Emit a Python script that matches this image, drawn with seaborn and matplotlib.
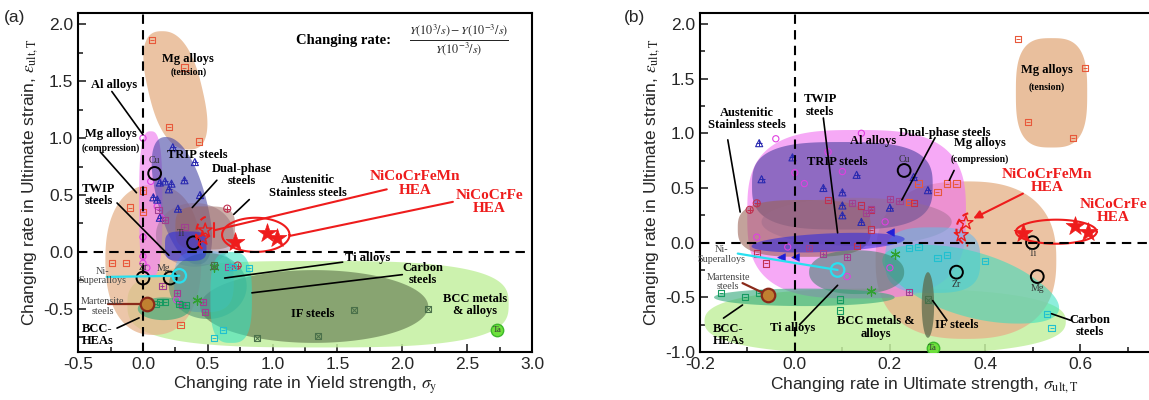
import numpy as np
import matplotlib
matplotlib.use("Agg")
import matplotlib.pyplot as plt
import matplotlib.ticker as mticker
import seaborn as sns

sns.set_theme(style="ticks")
plt.rcParams["font.family"] = ["Liberation Sans", "DejaVu Sans"]
plt.rcParams["mathtext.fontset"] = "stix"

SERIF = ["Liberation Serif", "DejaVu Serif"]

# ---------------------------------------------------------------------------
# Panel (a): yield strength vs ultimate strain
# ---------------------------------------------------------------------------
A_MGT_X = [0.07, 0.32, 0.20, 0.43]
A_MGT_Y = [1.86, 1.62, 1.10, 0.97]
A_TWIP_X = [0.0, -0.10, 0.0, -0.24, -0.13, 0.29]
A_TWIP_Y = [0.54, 0.39, 0.35, -0.10, -0.10, -0.64]
A_MGC_X = [0.0, 0.0, 0.0, 0.0, 0.03, 0.11, 0.14, 0.06, 0.26]
A_MGC_Y = [1.0, 0.13, -0.04, -0.10, -0.14, 0.40, 0.30, 0.62, -0.42]
A_TRIP_X = [0.23, 0.40, 0.32, 0.17, 0.22, 0.13, 0.08, 0.44, 0.11, 0.13, 0.20, 0.27]
A_TRIP_Y = [0.92, 0.79, 0.63, 0.62, 0.60, 0.61, 0.48, 0.50, 0.46, 0.30, 0.55, 0.38]
A_DP_X = [0.17, 0.12, 0.26, 0.15, 0.48, 0.46, 0.66, 0.32, 0.30]
A_DP_Y = [0.28, 0.37, -0.36, -0.30, -0.53, -0.44, -0.13, 0.22, -0.47]
A_AUS_X = [0.65, 0.73]
A_AUS_Y = [0.38, -0.12]
A_TI_X = [0.55, 0.42]
A_TI_Y = [-0.13, -0.42]
A_CS_X = [0.82, 0.55, 0.62, 0.69]
A_CS_Y = [-0.14, -0.76, -0.69, -0.13]
A_IF_X = [1.63, 1.35, 0.88, 2.20, 0.55]
A_IF_Y = [-0.51, -0.74, -0.76, -0.50, -0.12]
A_HEAB_X = [0.10, 0.13, 0.17, 0.28, 0.33]
A_HEAB_Y = [-0.46, -0.44, -0.44, -0.46, -0.47]
A_EL_NAME = ["Cu", "Ti", "Mg", "Zr"]
A_EL_X = [0.09, 0.39, 0.21, 0.0]
A_EL_Y = [0.69, 0.08, -0.23, -0.23]
A_TA = (2.73, -0.69)
A_NISUP = (0.28, -0.21)
A_MART = (0.03, -0.46)
A_MN_X = [0.48, 0.46]
A_MN_Y = [0.19, 0.12]
A_FE_X = [0.71, 0.96, 1.03]
A_FE_Y = [0.09, 0.17, 0.12]

# ---------------------------------------------------------------------------
# Panel (b): ultimate strength vs ultimate strain
# ---------------------------------------------------------------------------
B_MGT_X = [0.47, 0.61, 0.49, 0.585]
B_MGT_Y = [1.86, 1.60, 1.10, 0.96]
B_MGC_X = [0.32, 0.34, 0.30, 0.26, 0.24]
B_MGC_Y = [0.54, 0.54, 0.46, 0.54, 0.37]
B_TWIP_X = [0.07, 0.14, 0.16, 0.25, 0.16, -0.08, -0.06, 0.13]
B_TWIP_Y = [0.39, 0.34, 0.30, 0.36, 0.12, -0.10, -0.19, -0.03]
B_DP_X = [0.20, 0.16, 0.15, 0.03, 0.11, 0.24, 0.22, 0.12, 0.06]
B_DP_Y = [0.40, 0.31, 0.27, -0.05, -0.13, -0.45, 0.38, 0.36, -0.10]
B_AL_X = [-0.04, 0.14, 0.07, 0.10, 0.02, 0.0, -0.08, -0.015, 0.19, 0.20, 0.11]
B_AL_Y = [0.95, 1.0, 0.83, 0.65, 0.54, 0.64, 0.05, -0.04, 0.19, -0.23, -0.31]
B_TRIP_X = [-0.075, -0.07, -0.005, 0.06, 0.10, 0.13, 0.10, 0.10, 0.14, 0.20, 0.25, 0.28]
B_TRIP_Y = [0.91, 0.58, 0.78, 0.50, 0.46, 0.62, 0.34, 0.25, 0.19, 0.32, 0.60, 0.48]
B_AUS_X = [-0.095, -0.08]
B_AUS_Y = [0.30, 0.36]
B_NIS_X = [-0.03, 0.0, 0.20]
B_NIS_Y = [-0.13, -0.13, 0.10]
B_TI_X = [0.21, 0.16]
B_TI_Y = [-0.10, -0.44]
B_CS_X = [0.30, 0.32, 0.40, 0.53, 0.54, 0.24, 0.26]
B_CS_Y = [-0.14, -0.11, -0.17, -0.65, -0.78, -0.05, -0.04]
B_HEAB_X = [-0.155, -0.105, -0.075, 0.095, 0.095]
B_HEAB_Y = [-0.46, -0.50, -0.46, -0.52, -0.62]
B_IF_X = [0.28]
B_IF_Y = [-0.52]
B_EL_NAME = ["Cu", "Ti", "Zr", "Mg"]
B_EL_X = [0.23, 0.50, 0.34, 0.51]
B_EL_Y = [0.66, 0.0, -0.27, -0.31]
B_TA = (0.29, -0.96)
B_NISUP = (0.09, -0.25)
B_MART = (-0.057, -0.48)
B_MN_X = [0.36, 0.35]
B_MN_Y = [0.18, 0.07]
B_FE_X = [0.48, 0.59, 0.617]
B_FE_Y = [0.09, 0.15, 0.10]

C_MG = "#e8583a"
C_MAG = "#e040e0"
C_TRIP = "#2a2ab0"
C_DP = "#a04090"
C_AUS = "#c03050"
C_TI = "#30a030"
C_CS = "#20c0d0"
C_IF = "#4a704a"
C_HEAB = "#159a60"
C_RED = "#ee1c1c"

# material regions: (cx, cy, rx, ry, squareness, tilt, colour, alpha)
A_REGIONS = [
    (1.35, -0.46, 1.47, 0.38, 3.0, 0.0, "#c4f0a0", 0.85),   # BCC metals
    (0.08, -0.07, 0.37, 0.66, 2.3, 0.0, "#e6b48c", 0.75),   # TWIP
    (0.25, 1.42, 0.21, 0.52, 2.5, -0.20, "#e6b48c", 0.80),  # Mg tension
    (1.32, -0.48, 0.88, 0.32, 2.0, 0.0, "#6c8458", 0.70),   # IF steels
    (0.06, 0.42, 0.09, 0.64, 3.0, 0.0, "#f088f0", 0.70),    # Mg compression
    (0.30, 0.45, 0.19, 0.56, 2.2, -0.22, "#4848a8", 0.60),  # TRIP
    (0.40, 0.15, 0.30, 0.28, 2.0, 0.0, "#8a6a8a", 0.45),    # Dual-phase
    (0.48, 0.21, 0.23, 0.19, 3.5, 0.0, "#9c6458", 0.50),    # Austenitic
    (0.47, -0.26, 0.23, 0.27, 3.0, 0.0, "#70b8e8", 0.55),   # Ni superalloys
    (0.50, -0.30, 0.30, 0.29, 2.0, 0.0, "#3a8068", 0.50),   # Ti alloys
    (0.68, -0.40, 0.16, 0.40, 3.0, 0.0, "#30e0c0", 0.55),   # Carbon steels
    (0.33, 0.05, 0.16, 0.13, 4.0, 0.0, "#2828e0", 0.55),    # blue block
    (0.16, -0.50, 0.20, 0.10, 2.0, 0.0, "#30a878", 0.60),   # BCC-HEAs
]
B_REGIONS = [
    (0.19, -0.72, 0.38, 0.30, 2.5, 0.0, "#c4f0a0", 0.85),   # BCC metals
    (0.36, -0.16, 0.19, 0.72, 2.5, 0.0, "#e6b48c", 0.80),   # Mg compression
    (0.13, 0.26, 0.23, 0.77, 3.0, 0.0, "#f070f0", 0.60),    # Al alloys
    (0.10, 0.52, 0.19, 0.40, 3.0, 0.0, "#4a40a0", 0.60),    # TRIP
    (0.02, 0.13, 0.14, 0.26, 3.0, 0.0, "#9c6458", 0.60),    # Austenitic
    (0.13, 0.19, 0.20, 0.22, 2.0, 0.0, "#9a6a8a", 0.45),    # Dual-phase
    (0.29, -0.16, 0.10, 0.30, 3.0, 0.0, "#70b8e8", 0.60),   # light blue
    (0.37, -0.38, 0.15, 0.36, 2.2, -0.28, "#30e0c0", 0.55), # Carbon steels
    (0.07, 0.0, 0.15, 0.09, 2.0, 0.65, "#2828e0", 0.55),    # Ni superalloys
    (0.13, -0.27, 0.10, 0.20, 2.2, 0.0, "#3a8068", 0.55),   # Ti alloys
    (0.02, -0.50, 0.19, 0.08, 2.0, 0.0, "#30a878", 0.60),   # BCC-HEAs
    (0.28, -0.57, 0.013, 0.30, 2.0, 0.0, "#5c6a4c", 0.75),  # IF steels
    (0.54, 1.37, 0.075, 0.50, 3.0, 0.0, "#e6b48c", 0.85),   # Mg tension
]


def blob(ax, cx, cy, rx, ry, n, k, color, alpha):
    t = np.linspace(0, 2 * np.pi, 240)
    c, s = np.cos(t), np.sin(t)
    ey = np.sign(s) * np.abs(s) ** (2 / n)
    ex = np.sign(c) * np.abs(c) ** (2 / n)
    y = cy + ry * ey
    x = cx + rx * ex + k * (y - cy)
    ax.fill(x, y, color=color, alpha=alpha, lw=0, zorder=1)


def pts(ax, x, y, marker, color, inner=None, s=20):
    sns.scatterplot(x=x, y=y, ax=ax, marker=marker, s=s, facecolor="none",
                    edgecolor=color, linewidth=0.8, legend=False, zorder=4)
    if inner:
        sns.scatterplot(x=x, y=y, ax=ax, marker=inner, s=s * 0.55, color=color,
                        linewidth=0.7, legend=False, zorder=4)


def lab(ax, x, y, txt, size=9, bold=True, color="black", ha="center"):
    ax.text(x, y, txt, ha=ha, va="center", fontsize=size, color=color,
            family=SERIF, fontweight="bold" if bold else "normal",
            linespacing=1.05, zorder=6)


def line(ax, p0, p1, color="black", lw=1.2):
    ax.plot([p0[0], p1[0]], [p0[1], p1[1]], color=color, lw=lw, zorder=5)


def elements(ax, names, xs, ys, ta, offsets):
    sns.scatterplot(x=xs, y=ys, ax=ax, marker="o", s=85, facecolor="none",
                    edgecolor="black", linewidth=1.4, legend=False, zorder=5)
    for nm, x, y, (dx, dy) in zip(names, xs, ys, offsets):
        lab(ax, x + dx, y + dy, nm, size=7, bold=False, color="#333333")
    sns.scatterplot(x=[ta[0]], y=[ta[1]], ax=ax, marker="o", s=80, color="#6ee03c",
                    edgecolor="#3cb82a", linewidth=1.0, legend=False, zorder=5)
    lab(ax, ta[0], ta[1], "Ta", size=6.5, bold=False, color="#333333")


def arc(ax, cx, cy, rx, ry):
    t = np.linspace(np.radians(100), np.radians(260), 60)
    ax.plot(cx + rx * np.cos(t), cy + ry * np.sin(t), color=C_RED, lw=1.5,
            ls=(0, (3, 2)), zorder=5)


def ring(ax, cx, cy, rx, ry):
    t = np.linspace(0, 2 * np.pi, 120)
    ax.plot(cx + rx * np.cos(t), cy + ry * np.sin(t), color=C_RED, lw=1.5, zorder=5)


def style_axes(ax, xmaj, xmin):
    ax.xaxis.set_major_locator(mticker.MultipleLocator(xmaj))
    ax.xaxis.set_minor_locator(mticker.MultipleLocator(xmin))
    ax.yaxis.set_major_locator(mticker.MultipleLocator(0.5))
    ax.yaxis.set_minor_locator(mticker.MultipleLocator(0.25))
    ax.xaxis.set_major_formatter(mticker.FormatStrFormatter("%.1f"))
    ax.yaxis.set_major_formatter(mticker.FormatStrFormatter("%.1f"))
    ax.tick_params(which="both", direction="in", labelsize=12.5, width=1.2,
                   top=False, right=False)
    ax.tick_params(which="major", length=6)
    ax.tick_params(which="minor", length=3.5)
    for sp in ax.spines.values():
        sp.set_linewidth(1.5)
        sp.set_color("black")
    ax.axhline(0, color="black", lw=1.5, ls=(0, (4.5, 3)), zorder=5)
    ax.axvline(0, color="black", lw=1.5, ls=(0, (4.5, 3)), zorder=5)
    ax.set_ylabel(r"Changing rate in Ultimate strain, $\varepsilon_{\mathrm{ult,T}}$",
                  fontsize=12.5, labelpad=2)


fig = plt.figure(figsize=(11.49, 4.0), dpi=100)
axA = fig.add_axes([0.068, 0.12, 0.395, 0.8475])
axB = fig.add_axes([0.609, 0.12, 0.391, 0.8475])

# ----------------------------- panel (a) ---------------------------------
ax = axA
for r in A_REGIONS:
    blob(ax, *r)
pts(ax, A_MGT_X, A_MGT_Y, "s", C_MG, "_")
pts(ax, A_TWIP_X, A_TWIP_Y, "s", C_MG, "_")
pts(ax, A_MGC_X, A_MGC_Y, "o", C_MAG)
pts(ax, A_TRIP_X, A_TRIP_Y, "^", C_TRIP, "+", s=26)
pts(ax, A_DP_X, A_DP_Y, "s", C_DP, "+")
pts(ax, A_AUS_X, A_AUS_Y, "o", C_AUS, "+", s=26)
sns.scatterplot(x=A_TI_X, y=A_TI_Y, ax=ax, marker=(6, 2, 0), s=45, color=C_TI,
                linewidth=0.9, legend=False, zorder=4)
pts(ax, A_CS_X, A_CS_Y, "s", C_CS, "_")
pts(ax, A_IF_X, A_IF_Y, "s", C_IF, "x")
pts(ax, A_HEAB_X, A_HEAB_Y, "s", C_HEAB, "_")
elements(ax, A_EL_NAME, A_EL_X, A_EL_Y, A_TA,
         [(0.0, 0.11), (-0.1, 0.08), (-0.05, 0.08), (0.0, 0.09)])
# Ni-superalloys / martensite pointers
line(ax, (-0.28, A_NISUP[1] - 0.01), A_NISUP, color="#28e0f0", lw=1.6)
sns.scatterplot(x=[A_NISUP[0]], y=[A_NISUP[1]], ax=ax, marker="o", s=95,
                facecolor="none", edgecolor="#28e0f0", linewidth=1.6, legend=False, zorder=6)
line(ax, (-0.27, A_MART[1]), A_MART, color="#8a2a1a", lw=1.6)
sns.scatterplot(x=[A_MART[0]], y=[A_MART[1]], ax=ax, marker="o", s=95,
                facecolor="#c08030", edgecolor="#8a2a1a", linewidth=1.6, legend=False, zorder=6)
# HEAs
sns.scatterplot(x=A_MN_X, y=A_MN_Y, ax=ax, marker="*", s=110, facecolor="none",
                edgecolor=C_RED, linewidth=1.0, legend=False, zorder=6)
sns.scatterplot(x=A_FE_X, y=A_FE_Y, ax=ax, marker="*", s=200, color=C_RED,
                edgecolor=C_RED, linewidth=0.5, legend=False, zorder=6)
arc(ax, 0.50, 0.16, 0.09, 0.15)
ring(ax, 0.87, 0.15, 0.26, 0.15)
line(ax, (0.55, 0.19), (1.88, 0.55), color=C_RED, lw=1.5)
line(ax, (0.55, 0.13), (0.55, 0.25), color=C_RED, lw=1.5)
line(ax, (1.13, 0.14), (2.39, 0.44), color=C_RED, lw=1.5)
# leader lines
line(ax, (-0.24, 1.41), (0.0, 1.03))
line(ax, (-0.33, 0.88), (-0.05, 0.52))
line(ax, (-0.20, 0.43), (0.20, -0.03))
line(ax, (-0.20, -0.67), (-0.03, -0.58))
line(ax, (0.57, 0.63), (0.38, 0.39))
line(ax, (0.82, 0.46), (0.70, 0.33))
line(ax, (1.54, -0.09), (0.63, -0.23))
line(ax, (2.00, -0.20), (0.84, -0.36))
# labels
lab(ax, 0.35, 1.70, "Mg alloys")
lab(ax, 0.35, 1.58, "(tension)", size=7)
lab(ax, -0.22, 1.47, "Al alloys")
lab(ax, -0.25, 1.04, "Mg alloys")
lab(ax, -0.25, 0.91, "(compression)", size=7)
lab(ax, -0.34, 0.50, "TWIP\nsteels")
lab(ax, -0.31, -0.21, "Ni-\nSuperalloys", size=7.3, bold=False, color="#444444")
lab(ax, -0.31, -0.48, "Martensite\nsteels", size=7.3, bold=False, color="#444444")
lab(ax, -0.35, -0.73, "BCC-\nHEAs")
lab(ax, 0.42, 0.85, "TRIP steels")
lab(ax, 0.76, 0.675, "Dual-phase\nsteels")
lab(ax, 1.27, 0.575, "Austenitic\nStainless steels")
lab(ax, 2.10, 0.60, "NiCoCrFeMn\nHEA", size=11, color=C_RED)
lab(ax, 2.67, 0.44, "NiCoCrFe\nHEA", size=11, color=C_RED)
lab(ax, 1.73, -0.05, "Ti alloys")
lab(ax, 2.16, -0.195, "Carbon\nsteels")
lab(ax, 2.56, -0.465, "BCC metals\n& alloys")
lab(ax, 1.31, -0.55, "IF steels")
lab(ax, 1.18, 1.86, "Changing rate:", size=10.5, ha="left")
ax.text(2.44, 1.86, r"$\frac{Y(10^3/s)-Y(10^{-3}/s)}{Y(10^{-3}/s)}$", ha="center",
        va="center", fontsize=12.5, zorder=6)

ax.set_xlim(-0.5, 3.0)
ax.set_ylim(-0.88, 2.1)
style_axes(ax, 0.5, 0.25)
ax.set_xlabel(r"Changing rate in Yield strength, $\sigma_{\mathrm{y}}$", fontsize=12.5,
              labelpad=2)

# ----------------------------- panel (b) ---------------------------------
ax = axB
for r in B_REGIONS:
    blob(ax, *r)
pts(ax, B_MGT_X, B_MGT_Y, "s", C_MG, "_")
pts(ax, B_MGC_X, B_MGC_Y, "s", C_MG, "_")
pts(ax, B_TWIP_X, B_TWIP_Y, "s", C_AUS, "_")
pts(ax, B_DP_X, B_DP_Y, "s", C_DP, "+")
pts(ax, B_AL_X, B_AL_Y, "o", C_MAG)
pts(ax, B_TRIP_X, B_TRIP_Y, "^", C_TRIP, "+", s=26)
pts(ax, B_AUS_X, B_AUS_Y, "o", C_AUS, "+", s=26)
sns.scatterplot(x=B_NIS_X, y=B_NIS_Y, ax=ax, marker="<", s=30, color="#2020d8",
                edgecolor="#2020d8", legend=False, zorder=4)
sns.scatterplot(x=B_TI_X, y=B_TI_Y, ax=ax, marker=(6, 2, 0), s=45, color=C_TI,
                linewidth=0.9, legend=False, zorder=4)
pts(ax, B_CS_X, B_CS_Y, "s", C_CS, "_")
pts(ax, B_HEAB_X, B_HEAB_Y, "s", C_HEAB, "_")
pts(ax, B_IF_X, B_IF_Y, "s", C_IF, "x")
elements(ax, B_EL_NAME, B_EL_X, B_EL_Y, B_TA,
         [(0.0, 0.1), (0.0, -0.1), (0.0, -0.11), (0.0, -0.11)])
line(ax, (-0.12, -0.10), B_NISUP, color="#28e0f0", lw=1.6)
sns.scatterplot(x=[B_NISUP[0]], y=[B_NISUP[1]], ax=ax, marker="o", s=95,
                facecolor="none", edgecolor="#28e0f0", linewidth=1.6, legend=False, zorder=6)
line(ax, (-0.11, -0.37), B_MART, color="#8a2a1a", lw=1.6)
sns.scatterplot(x=[B_MART[0]], y=[B_MART[1]], ax=ax, marker="o", s=95,
                facecolor="#c08030", edgecolor="#8a2a1a", linewidth=1.6, legend=False, zorder=6)
sns.scatterplot(x=B_MN_X, y=B_MN_Y, ax=ax, marker="*", s=110, facecolor="none",
                edgecolor=C_RED, linewidth=1.0, legend=False, zorder=6)
sns.scatterplot(x=B_FE_X, y=B_FE_Y, ax=ax, marker="*", s=200, color=C_RED,
                edgecolor=C_RED, linewidth=0.5, legend=False, zorder=6)
arc(ax, 0.37, 0.12, 0.03, 0.15)
ring(ax, 0.55, 0.10, 0.085, 0.11)
ax.annotate("", xy=(0.37, 0.21), xytext=(0.485, 0.46), zorder=6,
            arrowprops=dict(arrowstyle="-|>", color=C_RED, lw=1.5))
line(ax, (-0.141, 0.94), (-0.115, 0.28))
line(ax, (0.06, 1.14), (0.09, 0.09))
line(ax, (0.295, 0.96), (0.225, 0.39))
line(ax, (0.335, 0.66), (0.325, 0.57))
line(ax, (0.01, -0.75), (0.09, -0.39))
line(ax, (-0.15, -0.69), (-0.11, -0.57))
line(ax, (0.32, -0.71), (0.29, -0.53))
line(ax, (0.58, -0.71), (0.54, -0.65))
lab(ax, 0.53, 1.58, "Mg alloys")
lab(ax, 0.53, 1.42, "(tension)", size=7)
lab(ax, -0.10, 1.13, "Austenitic\nStainless steels")
lab(ax, 0.053, 1.255, "TWIP\nsteels")
lab(ax, 0.165, 0.93, "Al alloys")
lab(ax, 0.09, 0.74, "TRIP steels")
lab(ax, 0.315, 1.00, "Dual-phase steels")
lab(ax, 0.39, 0.91, "Mg alloys")
lab(ax, 0.39, 0.76, "(compression)", size=7)
lab(ax, 0.53, 0.565, "NiCoCrFeMn\nHEA", size=11, color=C_RED)
lab(ax, 0.67, 0.29, "NiCoCrFe\nHEA", size=11, color=C_RED)
lab(ax, -0.155, -0.11, "Ni-\nSuperalloys", size=7.3, bold=False, color="#444444")
lab(ax, -0.14, -0.36, "Martensite\nsteels", size=7.3, bold=False, color="#444444")
lab(ax, -0.14, -0.845, "BCC-\nHEAs")
lab(ax, -0.005, -0.78, "Ti alloys")
lab(ax, 0.17, -0.775, "BCC metals &\nalloys")
lab(ax, 0.34, -0.75, "IF steels")
lab(ax, 0.62, -0.76, "Carbon\nsteels")

ax.set_xlim(-0.2, 0.745)
ax.set_ylim(-1.0, 2.1)
style_axes(ax, 0.2, 0.1)
ax.spines["right"].set_visible(False)
ax.set_xlabel(r"Changing rate in Ultimate strength, $\sigma_{\mathrm{ult,T}}$",
              fontsize=12.5, labelpad=2)

fig.text(0.003, 0.945, "(a)", fontsize=12.5)
fig.text(0.543, 0.945, "(b)", fontsize=12.5)

fig.savefig("out.png", dpi=100)
